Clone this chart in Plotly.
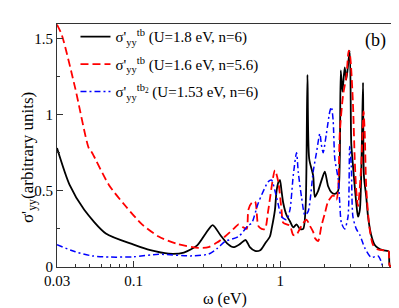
import plotly.graph_objects as go

# ---- data ----
black_w = [0.03, 0.0365, 0.046, 0.0646, 0.1, 0.13, 0.173, 0.22, 0.27, 0.31, 0.346, 0.39, 0.44, 0.479,
           0.53, 0.58, 0.62, 0.673, 0.73, 0.79, 0.85, 0.873, 0.92, 0.944, 0.975, 0.995, 1.02, 1.048,
           1.104, 1.164, 1.226, 1.291, 1.361, 1.434, 1.49, 1.533, 1.575, 1.677, 1.722, 1.813, 1.90,
           2.013, 2.121, 2.234, 2.356, 2.48, 2.546, 2.586, 2.652, 2.752, 2.823, 2.976, 3.05, 3.13,
           3.30, 3.39, 3.49, 3.6, 3.67, 3.72, 3.86, 3.97, 4.17, 4.40, 4.64, 5.0, 5.42, 5.5, 5.57, 5.7]
black_v = [0.78, 0.54, 0.375, 0.22, 0.147, 0.11, 0.0875, 0.095, 0.14, 0.22, 0.275, 0.21, 0.15, 0.13,
           0.15, 0.177, 0.13, 0.105, 0.11, 0.156, 0.2, 0.25, 0.375, 0.5, 0.56, 0.57, 0.5, 0.42,
           0.34, 0.30, 0.26, 0.28, 0.25, 0.25, 0.4, 1.26, 0.71, 0.6, 0.46, 0.5, 0.56,
           0.625, 0.53, 0.49, 0.48, 0.5, 0.7, 1.29, 1.15, 1.31, 1.23, 1.42, 0.81, 0.67,
           0.42, 0.33, 0.375, 0.8, 1.21, 0.6, 0.46, 0.33, 0.21, 0.146, 0.125, 0.11, 0.105, 0.1, 0.01, 0.0]

red_w = [0.03, 0.0324, 0.04, 0.0494, 0.052, 0.0676, 0.088, 0.114, 0.148, 0.2, 0.277, 0.324, 0.37,
         0.42, 0.48, 0.52, 0.56, 0.59, 0.606, 0.638, 0.673, 0.708, 0.746, 0.787, 0.829, 0.92, 0.969,
         1.02, 1.048, 1.164, 1.226, 1.291, 1.326, 1.396, 1.51, 1.593, 1.677, 1.722, 1.813, 1.909,
         2.013, 2.121, 2.295, 2.356, 2.415, 2.48, 2.546, 2.68, 2.823, 2.93, 3.0, 3.13, 3.22, 3.30,
         3.39, 3.57, 3.70, 3.77, 3.86, 4.07, 4.29, 4.64, 5.0, 5.42, 5.5, 5.57, 5.7]
red_v = [1.59, 1.52, 1.17, 0.78, 0.75, 0.54, 0.40, 0.28, 0.2, 0.15, 0.125, 0.13, 0.16,
         0.2, 0.25, 0.28, 0.26, 0.25, 0.375, 0.42, 0.43, 0.27, 0.25, 0.25, 0.375, 0.635, 0.56,
         0.375, 0.29, 0.27, 0.21, 0.21, 0.23, 0.27, 0.31, 0.27, 0.23, 0.19, 0.17, 0.27,
         0.35, 0.43, 0.47, 0.46, 0.44, 0.5, 0.875, 1.125, 1.25, 1.42, 1.38, 1.08, 0.71, 0.5,
         0.40, 0.67, 1.02, 0.875, 0.52, 0.25, 0.146, 0.115, 0.11, 0.11, 0.1, 0.01, 0.0]

blue_w = [0.03, 0.04, 0.052, 0.07, 0.1, 0.148, 0.25, 0.324, 0.37, 0.42, 0.52, 0.6, 0.64, 0.708,
          0.829, 0.873, 0.92, 0.969, 1.02, 1.104, 1.164, 1.226, 1.291, 1.326, 1.396, 1.473, 1.55,
          1.677, 1.766, 1.862, 1.909, 1.961, 2.064, 2.178, 2.234, 2.295, 2.356, 2.48, 2.546, 2.611,
          2.752, 2.898, 2.976, 3.05, 3.13, 3.30, 3.49, 3.77, 4.17, 4.64, 4.86, 5.0]
blue_v = [0.146, 0.1, 0.073, 0.065, 0.067, 0.083, 0.073, 0.085, 0.12, 0.167, 0.2, 0.27, 0.29, 0.42,
          0.56, 0.57, 0.5, 0.41, 0.33, 0.31, 0.375, 0.6, 0.75, 0.625, 0.46, 0.34, 0.365,
          0.625, 0.75, 0.875, 0.8, 0.75, 0.875, 1.02, 1.05, 0.96, 0.71, 0.58, 0.42, 0.29,
          0.25, 0.33, 0.79, 0.67, 0.33, 0.25, 0.21, 0.125, 0.0625, 0.073, 0.04, 0.0]

names = ["σ'<sub>yy</sub><sup>tb</sup> (U=1.8 eV, n=6)",
         "σ'<sub>yy</sub><sup>tb</sup> (U=1.6 eV, n=5.6)",
         "σ'<sub>yy</sub><sup>tb<sub>2</sub></sup> (U=1.53 eV, n=6)"]

x_ticks = [0.03, 0.1, 1]
x_tick_labels = ["0.03", "0.1", "1"]
x_minor = [0.04, 0.05, 0.06, 0.07, 0.08, 0.09, 0.2, 0.3, 0.4, 0.5, 0.6, 0.7, 0.8, 0.9, 2, 3, 4, 5]
y_ticks = [0, 0.5, 1, 1.5]
y_tick_labels = ["0", "0.5", "1", "1.5"]

FONT = "Times New Roman"

fig = go.Figure()
fig.add_trace(go.Scatter(x=black_w, y=black_v, mode="lines", name=names[0],
                         line=dict(color="black", width=1.8, shape="spline", smoothing=0.7),
                         legendgroup="a"))
fig.add_trace(go.Scatter(x=red_w, y=red_v, mode="lines", name=names[1],
                         line=dict(color="red", width=1.8, dash="8px,4px", shape="spline", smoothing=0.7),
                         legendgroup="b"))
fig.add_trace(go.Scatter(x=blue_w, y=blue_v, mode="lines", name=names[2],
                         line=dict(color="blue", width=1.5, dash="6px,3px,2px,3px", shape="spline",
                                   smoothing=0.7),
                         legendgroup="c"))

fig.update_layout(
    width=399, height=308,
    margin=dict(l=49, r=14, t=15, b=38),
    paper_bgcolor="white", plot_bgcolor="white",
    font=dict(family=FONT, color="black", size=15),
    showlegend=True,
    legend=dict(x=0.055, y=1.015, xanchor="left", yanchor="top",
                bgcolor="rgba(0,0,0,0)", font=dict(family=FONT, size=15),
                tracegroupgap=5, itemwidth=30),
    xaxis=dict(type="log", range=[-1.5229, 0.769], autorange=False,
               tickvals=x_ticks, ticktext=x_tick_labels,
               ticks="inside", ticklen=6, tickcolor="#333",
               minor=dict(tickvals=x_minor, ticks="inside", ticklen=3, tickcolor="#333", showgrid=False),
               showline=True, linecolor="#333", linewidth=1, mirror=True,
               showgrid=False, zeroline=False,
               tickfont=dict(family=FONT, size=15),
               title=dict(text="ω (eV)", font=dict(family=FONT, size=16), standoff=4)),
    yaxis=dict(range=[0, 1.594], autorange=False,
               tickvals=y_ticks, ticktext=y_tick_labels,
               ticks="inside", ticklen=6, tickcolor="#333",
               minor=dict(dtick=0.25, tick0=0, ticks="inside", ticklen=3, tickcolor="#333", showgrid=False),
               showline=True, linecolor="#333", linewidth=1, mirror=True,
               showgrid=False, zeroline=False,
               tickfont=dict(family=FONT, size=15)),
    annotations=[
        dict(text="(b)", x=0.985, y=0.985, xref="paper", yref="paper",
             xanchor="right", yanchor="top", showarrow=False,
             font=dict(family=FONT, size=18)),
        dict(text="σ'<sub>yy</sub>(arbitrary units)", x=-0.085, y=0.45, xref="paper", yref="paper",
             xanchor="center", yanchor="middle", textangle=-90, showarrow=False,
             font=dict(family=FONT, size=17)),
    ],
)

fig.write_html("out.html")
